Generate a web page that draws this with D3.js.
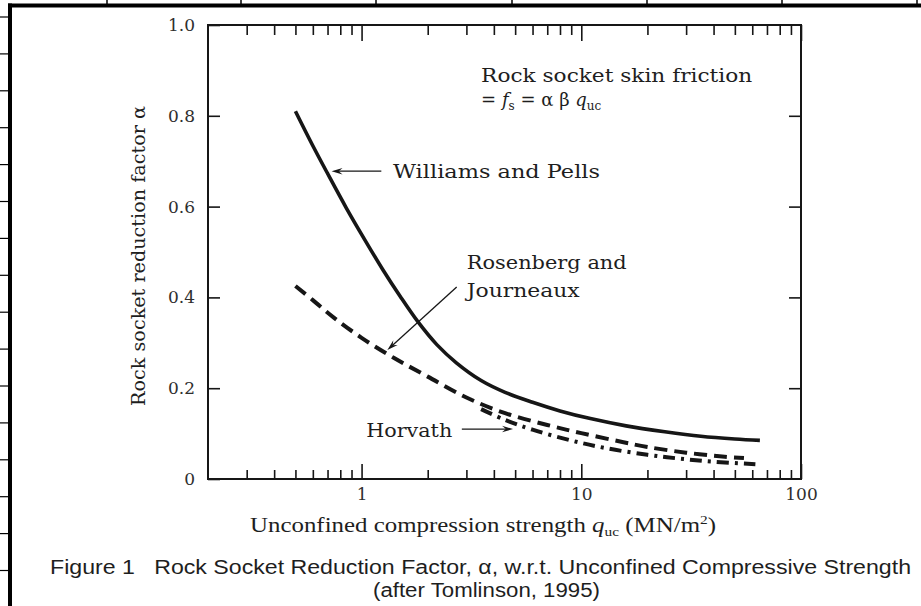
<!DOCTYPE html>
<html>
<head>
<meta charset="utf-8">
<script src="https://cdn.jsdelivr.net/npm/d3@7"></script>
<style>
  html, body { margin: 0; padding: 0; background: #fff; }
  svg { display: block; }
</style>
</head>
<body>
<svg id="chart" width="921" height="606"></svg>
<script>
// ---- Curve samples: unconfined compressive strength q_uc (MN/m²) and reduction factor α ----
const williamsQ     = [0.5, 0.6, 0.7, 0.85, 1.0, 1.25, 1.5, 1.8, 2.2, 2.7, 3.5, 4.5, 6, 8, 11, 16, 24, 35, 50, 65];
const williamsAlpha = [0.81, 0.734, 0.673, 0.598, 0.539, 0.461, 0.402, 0.347, 0.296, 0.256, 0.217, 0.191, 0.169, 0.150, 0.133, 0.117, 0.104, 0.094, 0.088, 0.085];

const rosenbergQ     = [0.5, 0.6, 0.75, 1.0, 1.4, 2.0, 3.0, 4.5, 7, 10, 15, 20, 30, 45, 55];
const rosenbergAlpha = [0.425, 0.394, 0.355, 0.311, 0.267, 0.2255, 0.1795, 0.145, 0.119, 0.101, 0.0826, 0.0705, 0.058, 0.049, 0.046];

const horvathQ     = [3.5, 4.5, 6, 9, 13, 20, 28, 40, 62];
const horvathAlpha = [0.154, 0.130, 0.1086, 0.0848, 0.0678, 0.0533, 0.0449, 0.0381, 0.0326];

// ---- Tick values and labels ----
const xMajorTicks  = [1, 10, 100];
const xMajorLabels = ["1", "10", "100"];
const xMinorTicks  = [0.3, 0.4, 0.5, 0.6, 0.7, 0.8, 0.9, 2, 3, 4, 5, 6, 7, 8, 9, 20, 30, 40, 50, 60, 70, 80, 90];
const yTicks       = [0, 0.2, 0.4, 0.6, 0.8, 1.0];
const yTickLabels  = ["0", "0.2", "0.4", "0.6", "0.8", "1.0"];

// ---- Layout ----
const svg = d3.select("#chart");
const plot = { left: 208, right: 801, top: 25, bottom: 479 };
const ink = "#161616";
const textInk = "#1e1e1e";
const serif = "'DejaVu Serif', 'Liberation Serif', serif";

const x = d3.scaleLog().domain([0.2, 100]).range([plot.left, plot.right]);
const y = d3.scaleLinear().domain([0, 1]).range([plot.bottom, plot.top]);

// ---- Document table rules around the figure ----
const rules = svg.append("g").attr("stroke", "#000");
rules.append("rect").attr("x", 8).attr("y", 3.5).attr("width", 913).attr("height", 4)
  .attr("fill", "#000").attr("stroke", "none");
rules.append("rect").attr("x", 8).attr("y", 3.5).attr("width", 4).attr("height", 603)
  .attr("fill", "#000").attr("stroke", "none");
[107, 241, 376, 512, 647, 782, 917].forEach(cx => {
  rules.append("line").attr("x1", cx).attr("x2", cx).attr("y1", 0).attr("y2", 4).attr("stroke-width", 1.5);
});
d3.range(17, 606, 36.9).forEach(cy => {
  rules.append("line").attr("x1", 0).attr("x2", 8).attr("y1", cy).attr("y2", cy).attr("stroke-width", 1.2);
});

// ---- Axes (ticks point into the plot on all four sides) ----
function styleAxis(g) {
  g.select(".domain").remove();
  g.selectAll(".tick line").attr("stroke", ink).attr("stroke-width", 1.6);
  g.selectAll(".tick text").attr("fill", "#2e2e2e").attr("font-family", serif).attr("font-size", 17);
}

svg.append("g").attr("transform", `translate(0,${plot.bottom})`)
  .call(d3.axisBottom(x).tickValues(xMinorTicks).tickSize(-9).tickFormat(""))
  .call(styleAxis);
svg.append("g").attr("transform", `translate(0,${plot.bottom})`)
  .call(d3.axisBottom(x).tickValues(xMajorTicks).tickSize(-15).tickPadding(9)
    .tickFormat((d, i) => xMajorLabels[i]))
  .call(styleAxis);
svg.append("g").attr("transform", `translate(0,${plot.top})`)
  .call(d3.axisTop(x).tickValues(xMinorTicks).tickSize(-10).tickFormat(""))
  .call(styleAxis);
svg.append("g").attr("transform", `translate(0,${plot.top})`)
  .call(d3.axisTop(x).tickValues(xMajorTicks).tickSize(-16).tickFormat(""))
  .call(styleAxis);
svg.append("g").attr("transform", `translate(${plot.left},0)`)
  .call(d3.axisLeft(y).tickValues(yTicks).tickSize(-12).tickPadding(13)
    .tickFormat((d, i) => yTickLabels[i]))
  .call(styleAxis);
svg.append("g").attr("transform", `translate(${plot.right},0)`)
  .call(d3.axisRight(y).tickValues(yTicks.slice(1, -1)).tickSize(-12).tickFormat(""))
  .call(styleAxis);

// plot frame
svg.append("rect")
  .attr("x", plot.left).attr("y", plot.top)
  .attr("width", plot.right - plot.left).attr("height", plot.bottom - plot.top)
  .attr("fill", "none").attr("stroke", ink).attr("stroke-width", 2);

// ---- Curves ----
const line = d3.line().x(d => x(d[0])).y(d => y(d[1])).curve(d3.curveCatmullRom.alpha(0.5));
const zip = (qs, as) => qs.map((q, i) => [q, as[i]]);

svg.append("path").datum(zip(williamsQ, williamsAlpha))
  .attr("d", line).attr("fill", "none").attr("stroke", ink)
  .attr("stroke-width", 3.6).attr("stroke-linecap", "butt");

svg.append("path").datum(zip(rosenbergQ, rosenbergAlpha))
  .attr("d", line).attr("fill", "none").attr("stroke", ink)
  .attr("stroke-width", 4).attr("stroke-dasharray", "13,7");

svg.append("path").datum(zip(horvathQ, horvathAlpha))
  .attr("d", line).attr("fill", "none").attr("stroke", ink)
  .attr("stroke-width", 4).attr("stroke-dasharray", "12,6,3,6");

// ---- Annotations ----
function arrow(q0, a0, q1, a1) {
  const x0 = x(q0), y0 = y(a0), x1 = x(q1), y1 = y(a1);
  const ang = Math.atan2(y1 - y0, x1 - x0);
  const len = 11, half = 3.2;
  svg.append("line").attr("x1", x0).attr("y1", y0)
    .attr("x2", x1 - Math.cos(ang) * 6).attr("y2", y1 - Math.sin(ang) * 6)
    .attr("stroke", ink).attr("stroke-width", 1.3);
  const bx = x1 - Math.cos(ang) * len, by = y1 - Math.sin(ang) * len;
  const px = -Math.sin(ang) * half, py = Math.cos(ang) * half;
  svg.append("path")
    .attr("d", `M${x1},${y1}L${bx + px},${by + py}L${bx + 0.35 * (x1 - bx)},${by + 0.35 * (y1 - by)}L${bx - px},${by - py}Z`)
    .attr("fill", ink);
}

function label(q, a, str, width, size) {
  return svg.append("text")
    .attr("x", x(q)).attr("y", y(a))
    .attr("font-family", serif).attr("font-size", size || 18)
    .attr("fill", textInk)
    .attr("textLength", width).attr("lengthAdjust", "spacingAndGlyphs")
    .text(str);
}

// skin friction formula
label(3.5, 0.874, "Rock socket skin friction", 271);
const formula = svg.append("text")
  .attr("x", x(3.5)).attr("y", y(0.822))
  .attr("font-family", serif).attr("font-size", 18).attr("fill", textInk);
formula.append("tspan").text("= ");
formula.append("tspan").attr("font-style", "italic").text("f");
formula.append("tspan").attr("font-size", 12).attr("dy", 4).text("s");
formula.append("tspan").attr("dy", -4).text(" = α β ");
formula.append("tspan").attr("font-style", "italic").text("q");
formula.append("tspan").attr("font-size", 12).attr("dy", 4).text("uc");

label(1.39, 0.663, "Williams and Pells", 207);
arrow(1.23, 0.678, 0.73, 0.678);

label(3.01, 0.4626, "Rosenberg and", 160);
label(3.01, 0.401, "Journeaux", 113);
arrow(2.71, 0.423, 1.31, 0.284);

label(1.05, 0.0925, "Horvath", 86);
arrow(2.86, 0.110, 4.89, 0.110);

// ---- Axis titles ----
svg.append("text")
  .attr("transform", "translate(145,256) rotate(-90)")
  .attr("text-anchor", "middle")
  .attr("font-family", serif).attr("font-size", 18).attr("fill", textInk)
  .attr("textLength", 300).attr("lengthAdjust", "spacingAndGlyphs")
  .text("Rock socket reduction factor α");

const xTitle = svg.append("text")
  .attr("x", 250).attr("y", 532)
  .attr("font-family", "'Liberation Serif', 'Times New Roman', serif")
  .attr("font-size", 21).attr("fill", textInk)
  .attr("textLength", 466).attr("lengthAdjust", "spacingAndGlyphs");
xTitle.append("tspan").text("Unconfined compression strength ");
xTitle.append("tspan").attr("font-style", "italic").text("q");
xTitle.append("tspan").attr("font-size", 13).attr("dy", 4).text("uc");
xTitle.append("tspan").attr("dy", -4).text(" (MN/m");
xTitle.append("tspan").attr("font-size", 13).attr("dy", -8).text("2");
xTitle.append("tspan").attr("dy", 8).text(")");

// ---- Figure caption ----
const capFont = "'Liberation Sans Narrow', 'Arial Narrow', 'Liberation Sans', Arial, sans-serif";
svg.append("text")
  .attr("x", 50).attr("y", 574)
  .attr("font-family", capFont).attr("font-size", 20).attr("fill", "#1e1e1e")
  .attr("textLength", 861).attr("lengthAdjust", "spacingAndGlyphs")
  .attr("xml:space", "preserve")
  .text("Figure 1   Rock Socket Reduction Factor, α, w.r.t. Unconfined Compressive Strength");
svg.append("text")
  .attr("x", 373).attr("y", 597)
  .attr("font-family", capFont).attr("font-size", 20).attr("fill", "#1e1e1e")
  .attr("textLength", 227).attr("lengthAdjust", "spacingAndGlyphs")
  .text("(after Tomlinson, 1995)");
</script>
</body>
</html>
